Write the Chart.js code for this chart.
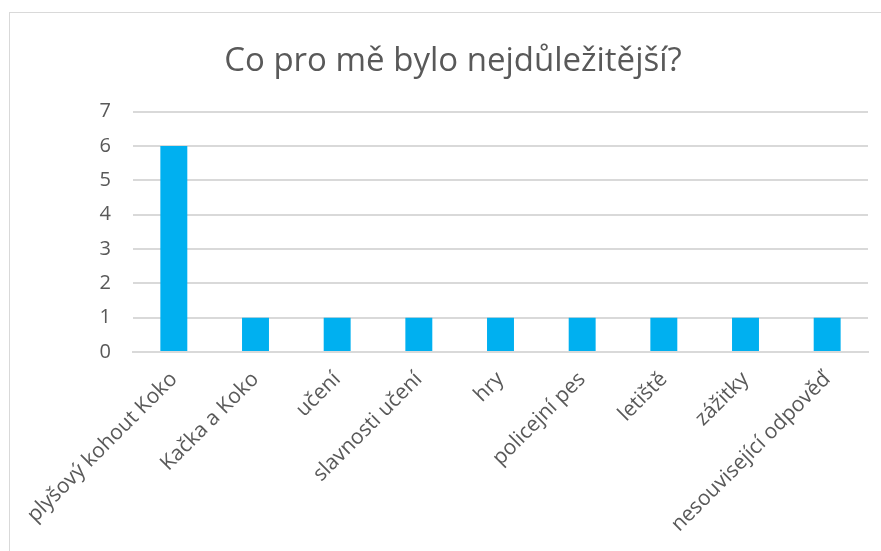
<!DOCTYPE html>
<html>
<head>
<meta charset="utf-8">
<script src="https://cdn.jsdelivr.net/npm/chart.js@4"></script>
<style>
  html, body { margin: 0; padding: 0; background: #fff; }
  body { width: 881px; height: 551px; overflow: hidden; position: relative; }
  #frame {
    position: absolute; left: 9px; top: 12px; width: 900px; height: 600px;
    border: 1px solid #d9d9d9; box-sizing: border-box;
  }
  #wrap { position: absolute; left: 0; top: 0; width: 881px; height: 551px; }
</style>
</head>
<body>
<div id="frame"></div>
<div id="wrap"><canvas id="chart"></canvas></div>
<script>
// Answers to "what mattered most" – counts per answer
const categories = [
  "plyšový kohout Koko",
  "Kačka a Koko",
  "učení",
  "slavnosti učení",
  "hry",
  "policejní pes",
  "letiště",
  "zážitky",
  "nesouvisející odpověď",
];
const counts = [6, 1, 1, 1, 1, 1, 1, 1, 1];
const yTicks = [0, 1, 2, 3, 4, 5, 6, 7];

const FONT_FAMILY = '"Open Sans", "Noto Sans", sans-serif';
const INK = "#595959";
const GRID = "#d9d9d9";
const BAR = "#00b0f0";

new Chart(document.getElementById("chart"), {
  type: "bar",
  data: {
    labels: categories,
    datasets: [
      {
        data: counts,
        backgroundColor: BAR,
        borderWidth: 0,
        categoryPercentage: 1,
        barPercentage: 0.33,
      },
    ],
  },
  options: {
    responsive: true,
    maintainAspectRatio: false,
    animation: false,
    // left padding pushes the title centre right, like the Excel frame does
    layout: { padding: { left: 38, right: 13, top: 0, bottom: 0 } },
    plugins: {
      legend: { display: false },
      tooltip: { enabled: false },
      title: {
        display: true,
        text: "Co pro mě bylo nejdůležitější?",
        color: INK,
        font: { family: FONT_FAMILY, size: 33, weight: "normal" },
        padding: { top: 42, bottom: 30 },
      },
    },
    scales: {
      x: {
        grid: { display: false, drawTicks: false },
        border: { color: GRID, width: 2 },
        ticks: {
          color: INK,
          font: { family: FONT_FAMILY, size: 21 },
          maxRotation: 45,
          minRotation: 45,
          autoSkip: false,
          padding: 15,
        },
        afterFit(scale) { scale.height = 199; },
      },
      y: {
        min: 0,
        max: 7,
        afterBuildTicks(scale) { scale.ticks = yTicks.map((v) => ({ value: v })); },
        grid: { color: GRID, lineWidth: 2, drawTicks: false },
        border: { display: false },
        ticks: {
          color: INK,
          font: { family: FONT_FAMILY, size: 20 },
          padding: 22,
        },
        afterFit(scale) { scale.width = 95; },
      },
    },
  },
});
</script>
</body>
</html>
